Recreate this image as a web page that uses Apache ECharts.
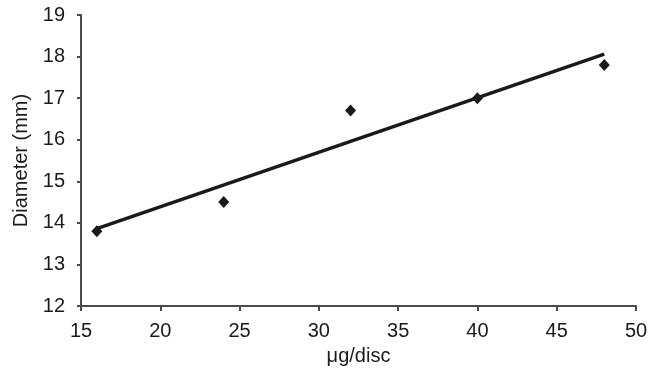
<!DOCTYPE html>
<html><head><meta charset="utf-8">
<script src="https://cdn.jsdelivr.net/npm/echarts@6/dist/echarts.min.js"></script>
<style>html,body{margin:0;padding:0;background:#fff}#c{width:656px;height:372px}</style>
</head><body><div id="c"></div>
<script>
const doses = [16, 24, 32, 40, 48];
const diameters = [13.8, 14.5, 16.7, 17.0, 17.8];
const trendX = [16, 48];
const trendY = [13.86, 18.06];
const xTitle = 'μg/disc';
const yTitle = 'Diameter (mm)';

const chart = echarts.init(document.getElementById('c'));
const font = 'Liberation Sans, Arial, sans-serif';
const axisCol = '#4a4a4a';
const txtCol = '#1a1a1a';
chart.setOption({
  animation: false,
  grid: {left: 81, right: 20, top: 15, bottom: 66},
  xAxis: {
    type: 'value', min: 15, max: 50, interval: 5,
    name: xTitle, nameLocation: 'middle', nameGap: 40,
    nameTextStyle: {fontFamily: font, fontSize: 20, color: txtCol},
    axisLine: {show: true, lineStyle: {color: axisCol, width: 2}},
    axisTick: {show: true, length: 5, lineStyle: {color: axisCol, width: 2}},
    axisLabel: {fontFamily: font, fontSize: 20, color: txtCol, margin: 15},
    splitLine: {show: false}
  },
  yAxis: {
    type: 'value', min: 12, max: 19, interval: 1,
    name: yTitle, nameLocation: 'middle', nameGap: 47, nameRotate: 90,
    nameTextStyle: {fontFamily: font, fontSize: 20, color: txtCol},
    axisLine: {show: true, lineStyle: {color: axisCol, width: 2}},
    axisTick: {show: true, length: 4, lineStyle: {color: axisCol, width: 2}},
    axisLabel: {fontFamily: font, fontSize: 20, color: txtCol, margin: 16},
    splitLine: {show: false}
  },
  series: [
    {
      type: 'line', data: trendX.map((x, i) => [x, trendY[i]]),
      symbol: 'none', lineStyle: {color: '#1a1a1a', width: 3.5}, z: 2
    },
    {
      type: 'scatter', data: doses.map((x, i) => [x, diameters[i]]),
      symbol: 'diamond', symbolSize: [11, 12],
      itemStyle: {color: '#1a1a1a', opacity: 1}, z: 3
    }
  ]
});
</script></body></html>
